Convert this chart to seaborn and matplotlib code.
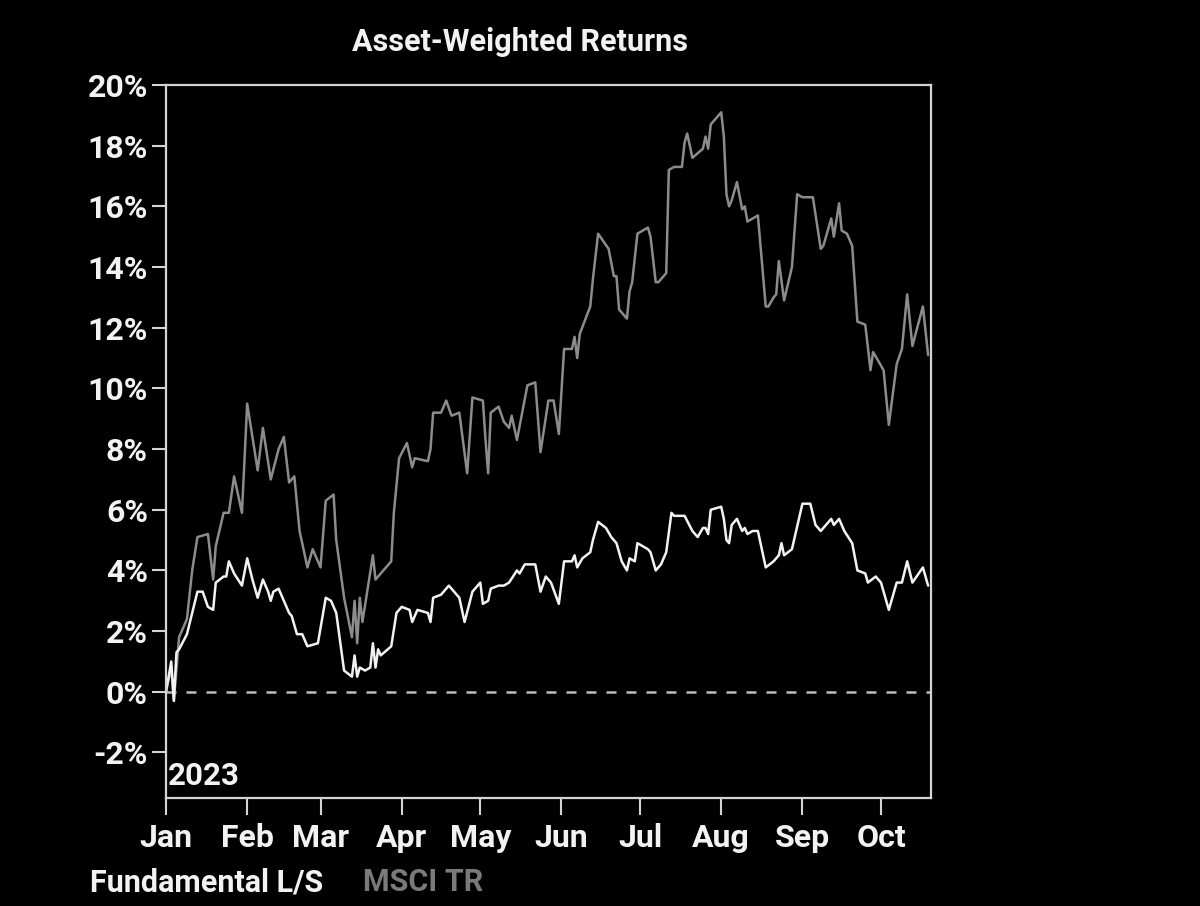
import numpy as np
import pandas as pd
import matplotlib
matplotlib.use("Agg")
import matplotlib.pyplot as plt
import seaborn as sns

# ---- data (days since 2023-01-01, return in %) ----
fund_days = [0, 2, 3, 4, 5, 8, 10, 12, 14, 16, 18, 19, 22, 23, 24, 26, 29, 31, 33, 35,
             37, 39, 40, 41, 43, 47, 48, 50, 52, 54, 58, 61, 63, 65, 68, 71, 72, 73, 74, 76,
             78, 79, 80, 81, 82, 86, 88, 90, 93, 94, 96, 100, 101, 102, 105, 108, 112, 114, 117, 120,
             121, 123, 124, 127, 129, 131, 134, 135, 137, 141, 143, 145, 147, 150, 152, 155, 156, 157, 159, 162,
             163, 165, 168, 170, 172, 174, 176, 177, 179, 180, 184, 185, 187, 189, 191, 193, 194, 198, 201, 203,
             205, 206, 207, 208, 212, 213, 214, 215, 216, 218, 220, 221, 222, 224, 226, 229, 232, 234, 235, 236,
             239, 243, 246, 248, 250, 253, 254, 255, 257, 259, 262, 264, 267, 268, 271, 273, 276, 279, 281, 283,
             285, 289, 291]
fund_vals = [0.0, 1.0, -0.3, 1.3, 1.4, 1.9, 2.6, 3.3, 3.3, 2.8, 2.7, 3.6, 3.8, 3.8, 4.3, 3.9, 3.5, 4.4, 3.7, 3.1,
             3.7, 3.3, 3.0, 3.3, 3.4, 2.6, 2.5, 1.9, 1.9, 1.5, 1.6, 3.1, 3.0, 2.6, 0.7, 0.5, 1.2, 0.5, 0.8, 0.7,
             0.8, 1.6, 0.8, 1.4, 1.2, 1.5, 2.6, 2.8, 2.7, 2.3, 2.7, 2.6, 2.3, 3.1, 3.2, 3.5, 3.1, 2.3, 3.3, 3.6,
             2.9, 3.0, 3.4, 3.5, 3.5, 3.6, 4.0, 3.9, 4.2, 4.2, 3.3, 3.8, 3.6, 2.9, 4.3, 4.3, 4.5, 4.1, 4.4, 4.6,
             5.0, 5.6, 5.4, 5.1, 4.9, 4.3, 4.0, 4.4, 4.3, 4.9, 4.7, 4.6, 4.0, 4.2, 4.6, 5.9, 5.8, 5.8, 5.3, 5.1,
             5.4, 5.4, 5.2, 6.0, 6.1, 5.7, 5.0, 4.9, 5.5, 5.7, 5.3, 5.4, 5.2, 5.3, 5.3, 4.1, 4.3, 4.5, 4.9, 4.5,
             4.7, 6.2, 6.2, 5.5, 5.3, 5.6, 5.7, 5.5, 5.7, 5.3, 4.9, 4.0, 3.9, 3.6, 3.8, 3.6, 2.7, 3.6, 3.6, 4.3,
             3.6, 4.1, 3.5]

msci_days = [0, 2, 3, 5, 8, 10, 12, 16, 18, 19, 22, 24, 26, 29, 31, 35, 37, 40, 43, 45,
             47, 49, 51, 54, 56, 59, 61, 64, 65, 68, 71, 72, 73, 74, 75, 79, 80, 82, 86, 87,
             89, 92, 94, 95, 100, 101, 102, 105, 107, 109, 112, 115, 117, 121, 122, 123, 124, 127, 129, 131,
             132, 134, 138, 141, 143, 146, 148, 150, 152, 155, 156, 157, 158, 162, 163, 165, 169, 171, 172, 173,
             176, 177, 178, 180, 184, 185, 187, 188, 191, 192, 194, 197, 198, 199, 201, 205, 206, 207, 208, 212,
             213, 214, 215, 216, 218, 220, 221, 222, 224, 226, 229, 230, 232, 233, 234, 236, 239, 241, 243, 247,
             250, 251, 253, 254, 255, 257, 258, 260, 262, 264, 267, 269, 270, 274, 276, 279, 281, 283, 285, 289,
             291]
msci_vals = [0.0, 0.8, -0.3, 1.8, 2.4, 4.0, 5.1, 5.2, 3.7, 4.8, 5.9, 5.9, 7.1, 5.9, 9.5, 7.3, 8.7, 7.0, 8.0, 8.4,
             6.9, 7.1, 5.3, 4.1, 4.7, 4.1, 6.3, 6.5, 5.0, 3.1, 1.8, 3.0, 1.6, 3.1, 2.3, 4.5, 3.7, 3.9, 4.3, 5.9,
             7.7, 8.2, 7.4, 7.7, 7.6, 8.0, 9.2, 9.2, 9.6, 9.1, 9.2, 7.2, 9.7, 9.6, 8.3, 7.2, 9.2, 9.4, 8.9, 8.7,
             9.1, 8.3, 10.1, 10.2, 7.9, 9.6, 9.6, 8.5, 11.3, 11.3, 11.7, 11.0, 11.8, 12.7, 13.6, 15.1, 14.6, 13.7, 13.7, 12.6,
             12.3, 13.2, 13.5, 15.1, 15.3, 15.0, 13.5, 13.5, 13.8, 17.2, 17.3, 17.3, 18.1, 18.4, 17.6, 17.9, 18.3, 17.9, 18.7, 19.1,
             18.3, 16.4, 16.0, 16.2, 16.8, 15.9, 16.0, 15.5, 15.6, 15.7, 12.7, 12.7, 13.0, 13.1, 14.2, 12.9, 14.0, 16.4, 16.3, 16.3,
             14.6, 14.7, 15.3, 15.6, 15.0, 16.1, 15.2, 15.1, 14.7, 12.2, 12.1, 10.6, 11.2, 10.6, 8.8, 10.8, 11.3, 13.1, 11.4, 12.7,
             11.1]

series_names = ["Fundamental L/S", "MSCI TR"]
series_colors = ["#f2f2f2", "#8c8c8c"]
month_labels = ["Jan", "Feb", "Mar", "Apr", "May", "Jun", "Jul", "Aug", "Sep", "Oct"]
y_ticks = list(range(-2, 21, 2))
year_label = "2023"
title = "Asset-Weighted Returns"

start = pd.Timestamp("2023-01-01")
df = pd.concat([
    pd.DataFrame({"date": start + pd.to_timedelta(fund_days, unit="D"),
                  "ret": fund_vals, "series": series_names[0]}),
    pd.DataFrame({"date": start + pd.to_timedelta(msci_days, unit="D"),
                  "ret": msci_vals, "series": series_names[1]}),
])

sns.set_style("dark", {"axes.facecolor": "black", "figure.facecolor": "black"})
FONT = ["Roboto", "DejaVu Sans"]
plt.rcParams["font.family"] = FONT
plt.rcParams["font.weight"] = "bold"

fig = plt.figure(figsize=(12, 9.06), dpi=100, facecolor="black")
ax = fig.add_axes([166 / 1200, 1 - 798 / 906, (931 - 166) / 1200, (798 - 85) / 906])
ax.set_facecolor("black")

# zero line
ax.axhline(0, color="#bdbdbd", lw=1.8, ls=(0, (4, 4)), zorder=1)

sns.lineplot(data=df, x="date", y="ret", hue="series", hue_order=series_names[::-1],
             palette=dict(zip(series_names, series_colors)), estimator=None, sort=True,
             lw=1.8, ax=ax, legend=False)

ax.set_xlim(start, start + pd.Timedelta(days=292.1))
ax.set_ylim(-3.5, 20)
ax.set_yticks(y_ticks)
ax.set_yticklabels([f"{t}%" for t in y_ticks])
month_pos = [pd.Timestamp(f"2023-{i+1:02d}-01") for i in range(len(month_labels))]
ax.set_xticks(month_pos)
ax.set_xticklabels(month_labels)
ax.set_xlabel("")
ax.set_ylabel("")
ax.grid(False)

for s in ax.spines.values():
    s.set_visible(True)
    s.set_color("#d4d4d4")
    s.set_linewidth(1.6)

ax.tick_params(axis="x", bottom=True, colors="#d4d4d4", length=12, width=1.5, direction="out",
               labelcolor="#f2f2f2", labelsize=23, pad=6)
ax.tick_params(axis="y", left=True, colors="#d4d4d4", length=10, width=1.5, direction="out",
               labelcolor="#f2f2f2", labelsize=23, pad=3)
for lab in ax.get_xticklabels() + ax.get_yticklabels():
    lab.set_fontweight("bold")
    lab.set_family(FONT)

ax.text(0.003, 0.01, year_label, transform=ax.transAxes, color="#f2f2f2",
        fontsize=22.5, fontweight="bold", ha="left", va="bottom", family=FONT)

fig.text(520 / 1200, 1 - 42 / 906, title, color="#f2f2f2", fontsize=22,
         fontweight="bold", ha="center", va="center", family=FONT)

fig.text(90 / 1200, 1 - 882 / 906, series_names[0], color=series_colors[0], fontsize=22,
         fontweight="bold", ha="left", va="center", family=FONT)
fig.text(363 / 1200, 1 - 882 / 906, series_names[1], color="#7a7a7a", fontsize=22,
         fontweight="bold", ha="left", va="center", family=FONT)

fig.savefig("out.png", dpi=100, facecolor="black")
